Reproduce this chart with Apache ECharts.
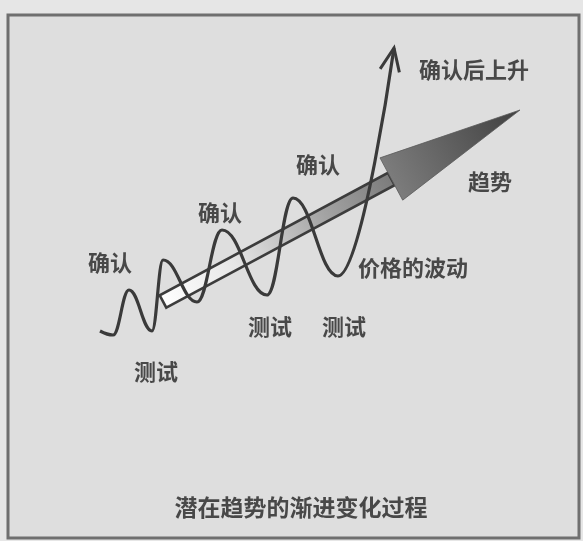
<!DOCTYPE html>
<html>
<head>
<meta charset="utf-8">
<script src="https://cdn.jsdelivr.net/npm/echarts@6/dist/echarts.min.js"></script>
<style>
html,body{margin:0;padding:0;background:#e6e6e6;}
#chart{width:583px;height:541px;}
</style>
</head>
<body>
<div id="chart"></div>
<script>
// Price wave turning points: [time, price]
var priceWave = [
  [100,210],[113,206],[129,251],[152,210],[163,281],[197,239],[222,311],
  [267,246],[293,343],[338,265],[394,493]
];
// A point read on the final rising leg (gives the arrow's heading)
var risePoint = [368,354];
// Underlying trend: start and end [time, price]
var trendStart = [163,239.5];
var trendEnd = [520,431];
// Annotations: [time, price, text]
var confirmLabels = [[110,278,'确认'],[220,328,'确认'],[318,376,'确认']];
var testLabels = [[156,169,'测试'],[270,214,'测试'],[344,214,'测试']];
var otherLabels = [[413,273,'价格的波动'],[490,359,'趋势'],[474,471,'确认后上升']];
var chartTitle = [[301,34,'潜在趋势的渐进变化过程']];

var FONT = '"Noto Sans CJK SC", "Noto Sans", sans-serif';
var chart = echarts.init(document.getElementById('chart'));

function trendArrow(params, api){
  var p0 = api.coord([api.value(0), api.value(1)]);
  var p1 = api.coord([api.value(2), api.value(3)]);
  var dx = p1[0]-p0[0], dy = p1[1]-p0[1];
  var L = Math.sqrt(dx*dx+dy*dy);
  var ux = dx/L, uy = dy/L, nx = -uy, ny = ux;
  var headLen = 146, headW = 24, shaftW = 7;
  var bx = p1[0]-ux*headLen, by = p1[1]-uy*headLen;
  var grad = new echarts.graphic.LinearGradient(p0[0],p0[1],p1[0],p1[1],[
    {offset:0,color:'#ffffff'},{offset:0.2,color:'#e6e6e6'},{offset:0.45,color:'#a4a4a4'},
    {offset:0.65,color:'#7a7a7a'},{offset:1,color:'#404040'}], true);
  return {type:'group', children:[
    {type:'polygon', shape:{points:[[p0[0]+nx*shaftW,p0[1]+ny*shaftW],[bx+nx*shaftW,by+ny*shaftW],
      [bx-nx*shaftW,by-ny*shaftW],[p0[0]-nx*shaftW,p0[1]-ny*shaftW]]},
      style:{fill:grad, stroke:'#3c3c3c', lineWidth:2.6}},
    {type:'polygon', shape:{points:[[bx+nx*headW,by+ny*headW],[p1[0],p1[1]],[bx-nx*headW,by-ny*headW]]},
      style:{fill:grad, stroke:'#5a5a5a', lineWidth:0.8}}
  ]};
}

function openArrowHead(params, api){
  var a = api.coord([api.value(0), api.value(1)]);
  var b = api.coord([api.value(2), api.value(3)]);
  var dx = b[0]-a[0], dy = b[1]-a[1];
  var L = Math.sqrt(dx*dx+dy*dy);
  var ux = -dx/L, uy = -dy/L;
  var len = 25, ang = 23*Math.PI/180;
  function rot(t){ return [ux*Math.cos(t)-uy*Math.sin(t), ux*Math.sin(t)+uy*Math.cos(t)]; }
  var w1 = rot(ang), w2 = rot(-ang);
  return {type:'polyline', shape:{points:[[b[0]+w1[0]*len,b[1]+w1[1]*len],[b[0],b[1]],[b[0]+w2[0]*len,b[1]+w2[1]*len]]},
    style:{stroke:'#3a3a3a', lineWidth:3, fill:null, lineJoin:'miter'}};
}

function labelSeries(name, data, size){
  return {name:name, type:'scatter', data:data, symbolSize:0, z:5, silent:true,
    label:{show:true, position:'inside', formatter:function(p){return p.data[2];},
      color:'#222222', fontSize:size, fontWeight:'bold', fontFamily:FONT}};
}

var last = priceWave[priceWave.length-1];

chart.setOption({
  animation:false,
  backgroundColor:'#e6e6e6',
  grid:{left:8, right:4, top:15, bottom:3, show:true, borderColor:'#6f6f6f', borderWidth:3, backgroundColor:'#dedede'},
  xAxis:{type:'value', min:8, max:579, show:false},
  yAxis:{type:'value', min:3, max:526, show:false},
  series:[
    {name:'趋势', type:'custom', renderItem:trendArrow, data:[[trendStart[0],trendStart[1],trendEnd[0],trendEnd[1]]], z:1, silent:true},
    {name:'价格', type:'line', data:priceWave, smooth:0.42, smoothMonotone:'x', showSymbol:false, z:3, silent:true,
      lineStyle:{color:'#3a3a3a', width:3.2}},
    {name:'箭头', type:'custom', renderItem:openArrowHead, data:[[risePoint[0],risePoint[1],last[0],last[1]]], z:3, silent:true},
    labelSeries('确认', confirmLabels, 22),
    labelSeries('测试', testLabels, 22),
    labelSeries('其他', otherLabels, 22),
    labelSeries('标题', chartTitle, 23)
  ]
});
</script>
</body>
</html>
